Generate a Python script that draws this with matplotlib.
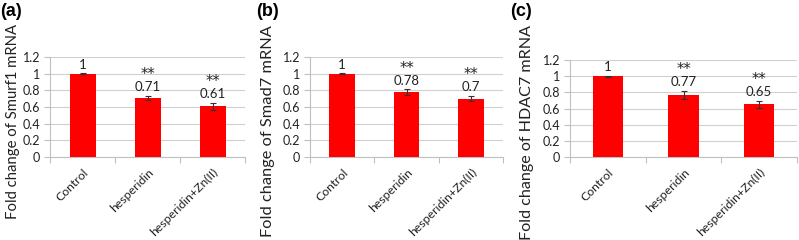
import numpy as np
import matplotlib
matplotlib.use("Agg")
import matplotlib.pyplot as plt

# data
groups = ["Control", "hesperidin", "hesperidin+Zn(II)"]
smurf1 = [1.0, 0.71, 0.61]
smurf1_err = [0.004, 0.02, 0.04]
smad7 = [1.0, 0.78, 0.70]
smad7_err = [0.004, 0.03, 0.03]
hdac7 = [1.0, 0.77, 0.65]
hdac7_err = [0.008, 0.05, 0.04]
stars = ["", "**", "**"]
yticks = [0, 0.2, 0.4, 0.6, 0.8, 1, 1.2]
ytick_labels = ["0", "0.2", "0.4", "0.6", "0.8", "1", "1.2"]

plt.rcParams['font.family'] = ['Lato', 'DejaVu Sans']

fig = plt.figure(figsize=(7.99, 2.40), dpi=100)

W, H = 799, 240
# tag, values, errors, y label, axes box in px (left, right, top, bottom), label x/y px, label size, tag x px
panels = [
    ("(a)", smurf1, smurf1_err, "Fold change of Smurf1 mRNA", (50, 245, 57, 157), 13, 121, 10.7, 0),
    ("(b)", smad7, smad7_err, "Fold change of Smad7 mRNA", (310, 503, 57, 157), 268, 131, 11.8, 256),
    ("(c)", hdac7, hdac7_err, "Fold change of HDAC7 mRNA", (570, 797, 60, 157), 527, 132, 11.6, 510),
]

for tag, vals, errs, ylab, (l, r, t, b), lx, ly, lsize, tagx in panels:
    ax = fig.add_axes([l / W, 1 - b / H, (r - l) / W, (b - t) / H])
    x = np.arange(len(groups))
    ax.bar(x, vals, width=0.4, color="#ff0000", zorder=3)
    ax.errorbar(x, vals, yerr=errs, fmt="none", ecolor="#333333",
                elinewidth=0.8, capsize=2, capthick=0.8, zorder=4)
    for xi, v, e, s in zip(x, vals, errs, stars):
        ax.annotate(f"{v:g}", (xi, v + e), xytext=(0, 2), textcoords="offset points",
                    ha="center", va="bottom", fontsize=9.5, color="#222222")
        if s:
            ax.annotate(s, (xi, v + e), xytext=(0, 10), textcoords="offset points",
                        ha="center", va="bottom", fontsize=10.5, color="#222222",
                        family=["DejaVu Sans"])
    ax.set_xlim(-0.5, len(groups) - 0.5)
    ax.set_ylim(0, 1.2)
    ax.set_yticks(yticks)
    ax.set_yticklabels(ytick_labels, fontsize=9, color="#222222")
    ax.grid(axis="y", color="#d0d0d0", linewidth=0.8, zorder=0)
    ax.set_xticks(x)
    ax.set_xticklabels(groups, rotation=45, ha="right", rotation_mode="anchor",
                       fontsize=8.8, color="#222222")
    ax.tick_params(axis="x", which="major", length=0, pad=7)
    ax.set_xticks(np.arange(-0.5, len(groups) + 0.5, 1), minor=True)
    ax.tick_params(axis="x", which="minor", length=4, color="#c0c0c0", width=0.8)
    ax.tick_params(axis="y", length=4, color="#c0c0c0", width=0.8, pad=3)
    for side in ("top", "right"):
        ax.spines[side].set_visible(False)
    for side in ("left", "bottom"):
        ax.spines[side].set_color("#c0c0c0")
        ax.spines[side].set_linewidth(0.8)
    fig.text(lx / W, 1 - ly / H, ylab, rotation=90, ha="center", va="center",
             fontsize=lsize, color="#222222")
    fig.text(tagx / W, 1 - 11 / H, tag, ha="left", va="center", fontsize=13,
             fontweight="bold", family=["Liberation Sans", "DejaVu Sans"])

fig.savefig("out.png", dpi=100)
